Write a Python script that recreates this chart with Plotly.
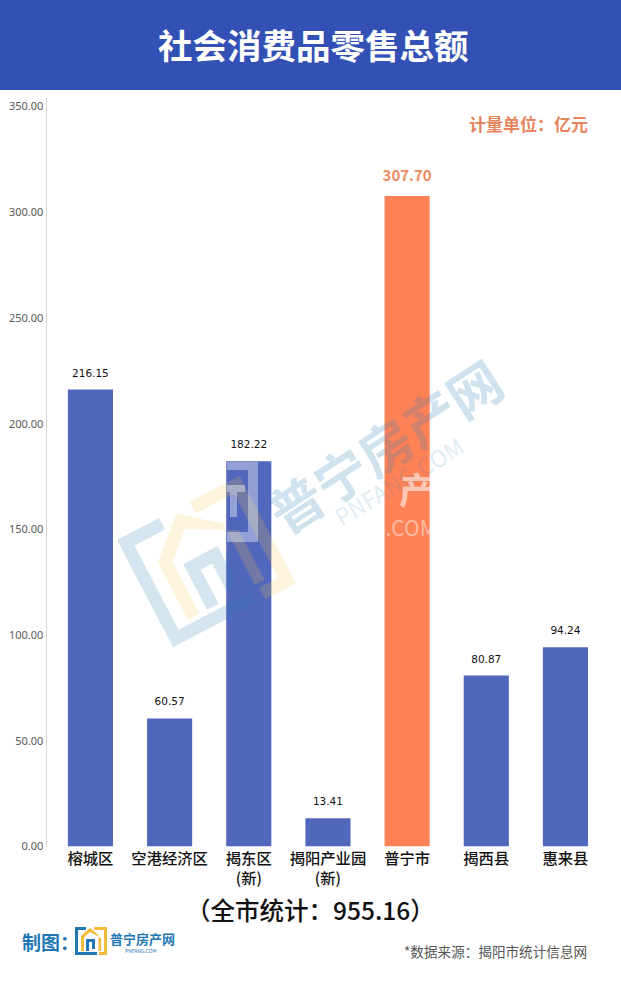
import math
import plotly.graph_objects as go

W, H = 621, 983
CJK = "Noto Sans CJK SC"

categories = ["榕城区", "空港经济区", "揭东区<br>(新)", "揭阳产业园<br>(新)", "普宁市", "揭西县", "惠来县"]
values = [216.15, 60.57, 182.22, 13.41, 307.70, 80.87, 94.24]
value_labels = ["216.15", "60.57", "182.22", "13.41", "307.70", "80.87", "94.24"]
y_ticks = [0, 50, 100, 150, 200, 250, 300, 350]
y_tick_labels = ["0.00", "50.00", "100.00", "150.00", "200.00", "250.00", "300.00", "350.00"]
highlight = "普宁市"

BLUE, ORANGE = "#5167BC", "#FF8257"
is_hi = [c == highlight for c in categories]


def px(x):
    return x / W


def py(y):
    return 1 - y / H


def path(points, ox, oy, scale, angle=0.0):
    c, s = math.cos(angle), math.sin(angle)
    out = []
    for lx, ly in points:
        X = ox + scale * (lx * c - ly * s)
        Y = oy + scale * (lx * s + ly * c)
        out.append(f"{px(X):.5f},{py(Y):.5f}")
    return "M" + " L".join(out) + " Z"


LOGO_BLUE = [[(11, 0), (0, 0), (0, 28), (22, 28), (22, 25), (3, 25), (3, 3), (11, 3)],
             [(11, 24), (11, 12), (20, 12), (20, 22), (17, 22), (17, 15), (14, 15), (14, 24)]]
LOGO_YELLOW = [[(19, 0), (32, 0), (32, 28), (24, 28), (24, 25), (29, 25), (29, 3), (19, 3)],
               [(15, 1), (6, 9), (6, 24), (9, 24), (9, 10.5), (15, 5), (26, 11), (26, 24), (23.5, 24), (23.5, 8)]]


def logo(ox, oy, scale, angle, blue, yellow, opacity):
    shapes = []
    for group, col in ((LOGO_YELLOW, yellow), (LOGO_BLUE, blue)):
        for pts in group:
            shapes.append(dict(type="path", xref="paper", yref="paper", layer="above",
                               path=path(pts, ox, oy, scale, angle), fillcolor=col,
                               opacity=opacity, line_width=0))
    return shapes


def rect(x0, y0, x1, y1, color, opacity=1.0, layer="above"):
    return dict(type="rect", xref="paper", yref="paper", layer=layer,
                x0=px(x0), x1=px(x1), y0=py(y1), y1=py(y0),
                fillcolor=color, opacity=opacity, line_width=0)


def note(text, x, y, size, color, weight=400, angle=0, opacity=1.0, anchor="center"):
    return dict(text=text, xref="paper", yref="paper", x=px(x), y=py(y), showarrow=False,
                xanchor=anchor, yanchor="middle", textangle=angle, opacity=opacity,
                font=dict(family=CJK, size=size, color=color, weight=weight))


fig = go.Figure()
fig.add_bar(x=categories, y=values, width=0.57,
            marker=dict(color=[ORANGE if h else BLUE for h in is_hi], line_width=0))
fig.add_scatter(x=categories, y=values, mode="markers+text", text=value_labels,
                textposition="top center", cliponaxis=False, hoverinfo="skip",
                marker=dict(size=[17 if h else 15 for h in is_hi], opacity=0),
                textfont=dict(family=[CJK if h else "DejaVu Sans" for h in is_hi],
                              size=[15 if h else 10.5 for h in is_hi],
                              color=["#EE8A60" if h else "#111111" for h in is_hi],
                              weight=[700 if h else 400 for h in is_hi]))

shapes = [rect(0, 0, W, 90, "#3350B5", layer="below")]
shapes += logo(117, 540, 4.32, math.radians(-27.6), "#2F7FB5", "#F9C24B", 0.2)
shapes += [rect(227, 462, 258, 470, "white", 0.38), rect(248, 470, 258, 542, "white", 0.38),
           rect(227, 532, 248, 542, "white", 0.38), rect(227, 485, 245, 492, "white", 0.38),
           rect(230, 492, 237, 517, "white", 0.38)]
shapes += logo(75, 927, 1.0, 0, "#1F78B4", "#F2B93B", 1.0)

annotations = [
    note("社会消费品零售总额", 313, 44, 34.5, "white", 700),
    note("计量单位：亿元", 528, 124, 17, "#E8845C", 700),
    note("（全市统计：955.16）", 310, 909, 24.5, "#111111", 500),
    note("制图：", 50, 941, 19, "#1F78B4", 700),
    note("普宁房产网", 142, 938, 13, "#1F78B4", 700),
    note("PNFANG.COM", 141, 950, 5, "#1F78B4", 400),
    note("*数据来源：揭阳市统计信息网", 495, 951, 13.6, "#555555", 400),
    note("普宁房产网", 384, 445, 53, "#2F7FB5", 700, angle=-33, opacity=0.22),
    note("PNFANG.COM", 398, 481, 23, "#2F7FB5", 400, angle=-31, opacity=0.14),
    note("产", 417, 488, 36, "white", 700, opacity=0.55),
    note("S.COM", 405, 527, 21, "#FFFFFF", 400, opacity=0.45),
]

fig.update_layout(
    width=W, height=H, margin=dict(l=0, r=0, t=0, b=0), autosize=False,
    paper_bgcolor="white", plot_bgcolor="white", showlegend=False,
    shapes=shapes, annotations=annotations,
    xaxis=dict(domain=[px(46.5), px(601)], type="category", range=[-0.555, 6.449],
               automargin=False, showgrid=False, showline=False,
               ticks="", tickangle=0, ticklabelstandoff=1,
               tickfont=dict(family=CJK, size=15.3, color="#111111", weight=500)),
    yaxis=dict(domain=[py(846.5), py(97.5)], range=[0, 354.3], tickvals=y_ticks, ticktext=y_tick_labels,
               automargin=False, showgrid=False, zeroline=False, showline=True,
               linecolor="#D6D6D6", linewidth=1, ticks="", ticklabelstandoff=0,
               tickfont=dict(family="Noto Sans", size=11, color="#595959")),
)

fig.write_html("out.html", config=dict(displayModeBar=False),
               post_script="document.body.style.margin='0';")
